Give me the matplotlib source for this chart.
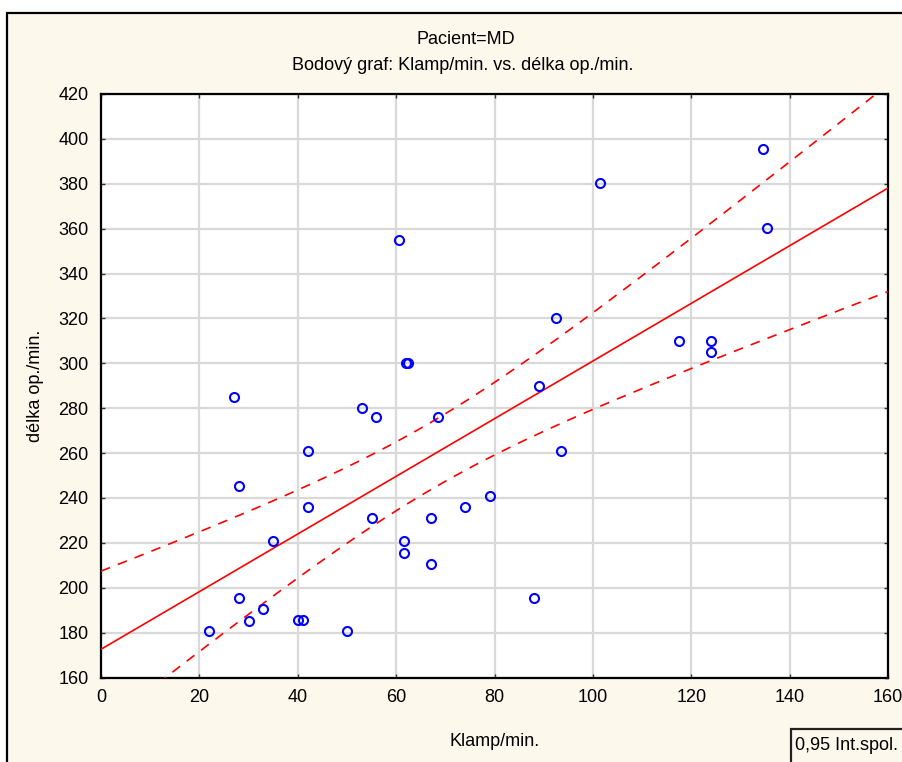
import numpy as np
import matplotlib
matplotlib.use("Agg")
import matplotlib.pyplot as plt
from matplotlib.patches import Rectangle

plt.rcParams['font.family'] = ['Liberation Sans', 'DejaVu Sans']
plt.rcParams['lines.scale_dashes'] = False

# Klamp/min. vs. délka op./min. for patient MD
klamp = [22, 27, 28, 28, 30, 33, 35, 40, 41, 42, 42, 50, 53, 55, 56, 60.5,
         62, 62.5, 61.5, 61.5, 67, 67, 68.5, 74, 79, 88, 89, 92.5, 93.5,
         101.5, 117.5, 124, 124, 134.5, 135.5]
delka = [180.5, 285, 245.5, 195.5, 185, 190.5, 221, 185.5, 185.5, 261, 236,
         180.5, 280, 231, 276, 355, 300, 300, 221, 215.5, 231, 210.5, 276,
         236, 241, 195.5, 290, 320, 261, 380.5, 310, 310, 305, 395.5, 360.5]

x_ticks = list(range(0, 161, 20))
y_ticks = list(range(160, 421, 20))

T_95 = 2.035  # t quantile, 33 degrees of freedom

BG = '#fdf8ec'
FS = 13

x = np.array(klamp, dtype=float)
y = np.array(delka, dtype=float)
n = len(x)
slope, intercept = np.polyfit(x, y, 1)
resid = y - (intercept + slope * x)
s = np.sqrt(np.sum(resid ** 2) / (n - 2))
sxx = np.sum((x - x.mean()) ** 2)

xs = np.linspace(0, 160, 400)
fit = intercept + slope * xs
half = T_95 * s * np.sqrt(1.0 / n + (xs - x.mean()) ** 2 / sxx)

W, H = 902, 762
fig = plt.figure(figsize=(W / 100, H / 100), dpi=100)
fig.patch.set_facecolor('white')

# outer cream panel with black frame
fig.patches.append(Rectangle((7 / W, -0.05), 1.1, 1 - 13 / H + 0.05,
                             transform=fig.transFigure, facecolor=BG,
                             edgecolor='black', linewidth=1.6, zorder=-5))

ax = fig.add_axes([101 / W, (H - 677.5) / H, (888 - 101) / W, (677.5 - 94) / H])
ax.set_facecolor('white')

ax.plot(xs, fit, color='#ff0000', linewidth=1.2, zorder=3)
ax.plot(xs, fit + half, color='#ff0000', linewidth=1.2, dashes=(7, 6), zorder=3)
ax.plot(xs, fit - half, color='#ff0000', linewidth=1.2, dashes=(7, 6), zorder=3)

ax.plot(x, y, linestyle='none', marker='o', markersize=6.5,
        markerfacecolor='none', markeredgecolor='#0000ff',
        markeredgewidth=1.5, zorder=4)

ax.set_xlim(0, 160)
ax.set_ylim(160, 420)
ax.set_xticks(x_ticks)
ax.set_yticks(y_ticks)
ax.grid(True, color='#d9d9d9', linewidth=1.6)
ax.set_axisbelow(True)
ax.tick_params(direction='in', length=3, width=1, color='#333333',
               top=True, right=True, labelsize=FS)
ax.tick_params(axis='y', pad=9)
ax.tick_params(axis='x', pad=8)
for sp in ax.spines.values():
    sp.set_linewidth(1.6)
    sp.set_color('black')

ax.set_xlabel('Klamp/min.', fontsize=FS, labelpad=20)
ax.set_ylabel('délka op./min.', fontsize=FS, labelpad=10)

fig.text(466 / W, 1 - 40 / H, 'Pacient=MD', ha='center', va='center', fontsize=FS)
fig.text(463 / W, 1 - 66 / H, 'Bodový graf: Klamp/min. vs. délka op./min.',
         ha='center', va='center', fontsize=FS)

# legend box in the lower right corner
fig.patches.append(Rectangle((791 / W, -0.05), 0.2, (H - 729) / H + 0.05,
                             transform=fig.transFigure, facecolor=BG,
                             edgecolor='#222222', linewidth=1.6, zorder=5))
fig.text(795 / W, 1 - 746 / H, '0,95 Int.spol.', ha='left', va='center',
         fontsize=FS, zorder=6)

fig.savefig('out.png', dpi=100, facecolor=fig.get_facecolor())
